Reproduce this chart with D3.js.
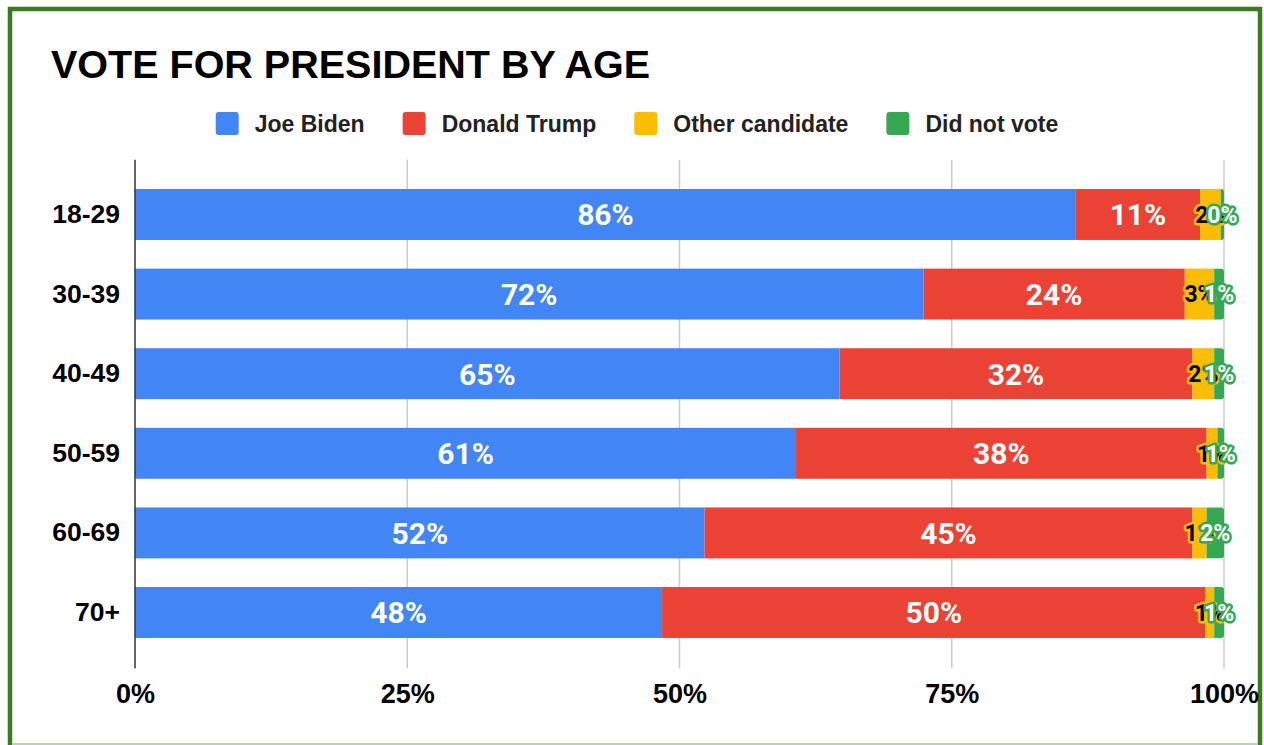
<!DOCTYPE html>
<html>
<head>
<meta charset="utf-8">
<script src="https://cdn.jsdelivr.net/npm/d3@7"></script>
<style>
  body { margin: 0; background: #fff; }
  text { font-family: "Liberation Sans", Arial, sans-serif; }
</style>
</head>
<body>
<svg id="chart" width="1264" height="745"></svg>
<script>
// Vote for president by age group (percent of each group)
const ageGroups   = ["18-29", "30-39", "40-49", "50-59", "60-69", "70+"];
const seriesNames = ["Joe Biden", "Donald Trump", "Other candidate", "Did not vote"];
const bidenPct    = [86.4, 72.4, 64.7, 60.7, 52.3, 48.4];
const trumpPct    = [11.4, 24.0, 32.4, 37.7, 44.8, 49.9];
const otherPct    = [1.9, 2.7, 2.0, 1.0, 1.3, 0.8];
const noVotePct   = [0.3, 0.9, 0.9, 0.6, 1.6, 0.9];
const xTickValues = [0, 0.25, 0.5, 0.75, 1];

const seriesColors = ["#4285f4", "#ea4335", "#fbbc04", "#34a853"];
const labelFill    = ["#ffffff", "#ffffff", "#000000", "#ffffff"];
const labelSize    = [30, 30, 23, 23];

const svg = d3.select("#chart");

// rows for the stack layout
const rows = ageGroups.map((g, i) => ({
  group: g,
  "Joe Biden": bidenPct[i],
  "Donald Trump": trumpPct[i],
  "Other candidate": otherPct[i],
  "Did not vote": noVotePct[i]
}));

const stacked = d3.stack()
  .keys(seriesNames)
  .offset(d3.stackOffsetExpand)(rows);

const x = d3.scaleLinear().domain([0, 1]).range([135, 1224]);
const y = d3.scaleBand().domain(ageGroups).range([174.7, 652.3])
  .paddingInner(0.36).paddingOuter(0.18);

const plotTop = y.range()[0] - 15, plotBottom = y.range()[1] + 16;

// frame
svg.append("path")
  .attr("d", `M10,745 L10,9 L1260,9 L1260,745`)
  .attr("fill", "none").attr("stroke", "#3b7a1f").attr("stroke-width", 4.5);
svg.append("line")
  .attr("x1", 12).attr("x2", 1258).attr("y1", 744).attr("y2", 744)
  .attr("stroke", "#b6d7a8").attr("stroke-width", 2);

// title
svg.append("text")
  .attr("x", 51).attr("y", 78)
  .attr("font-size", 39.5).attr("font-weight", "bold").attr("fill", "#000")
  .text("VOTE FOR PRESIDENT BY AGE");

// legend
const legend = svg.append("g");
const legendItems = legend.selectAll("g.item").data(seriesNames).join("g").attr("class", "item");
legendItems.append("rect")
  .attr("x", 0).attr("y", 112).attr("width", 23).attr("height", 23).attr("rx", 3)
  .attr("fill", (d, i) => seriesColors[i]);
legendItems.append("text")
  .attr("x", 39).attr("y", 132)
  .attr("font-size", 23).attr("font-weight", "bold").attr("fill", "#222")
  .text(d => d);
let cursor = 0;
const gap = 38;
legendItems.each(function () {
  const w = 39 + d3.select(this).select("text").node().getComputedTextLength();
  d3.select(this).attr("transform", `translate(${cursor},0)`);
  cursor += w + gap;
});
const legendWidth = cursor - gap;
legend.attr("transform", `translate(${637 - legendWidth / 2},0)`);

// gridlines
svg.append("g").selectAll("line")
  .data(xTickValues.filter(v => v > 0))
  .join("line")
  .attr("x1", d => x(d)).attr("x2", d => x(d))
  .attr("y1", plotTop).attr("y2", plotBottom)
  .attr("stroke", "#cccccc").attr("stroke-width", 1.5);

// x axis tick labels
const xAxis = d3.axisBottom(x).tickValues(xTickValues).tickFormat(d3.format(".0%")).tickSize(0).tickPadding(0);
const xAxisG = svg.append("g").attr("transform", `translate(0,${plotBottom})`).call(xAxis);
xAxisG.select(".domain").remove();
xAxisG.selectAll("text")
  .attr("y", 35).attr("dy", null)
  .attr("font-size", 27).attr("font-weight", "bold").attr("fill", "#000")
  .style("font-family", '"Liberation Sans", Arial, sans-serif');

// y axis category labels
const yAxis = d3.axisLeft(y).tickSize(0).tickPadding(15);
const yAxisG = svg.append("g").attr("transform", `translate(${x(0)},0)`).call(yAxis);
yAxisG.select(".domain").remove();
yAxisG.selectAll("text")
  .attr("font-size", 26.5).attr("font-weight", "bold").attr("fill", "#000")
  .style("font-family", '"Liberation Sans", Arial, sans-serif');

// bars; the last segment of each bar gets rounded right corners
const r = 3;
const layers = svg.append("g").selectAll("g.layer").data(stacked).join("g")
  .attr("class", "layer").attr("fill", (d, i) => seriesColors[i]);

layers.each(function (layer, li) {
  const last = li === stacked.length - 1;
  const g = d3.select(this);
  layer.forEach(seg => {
    const x0 = x(seg[0]), x1 = x(seg[1]);
    const y0 = y(seg.data.group), h = y.bandwidth();
    if (!last) {
      g.append("rect").attr("x", x0).attr("y", y0).attr("width", Math.max(0, x1 - x0)).attr("height", h);
    } else {
      const rr = Math.min(r, x1 - x0);
      const p = d3.path();
      p.moveTo(x0, y0);
      p.lineTo(x1 - rr, y0);
      p.arcTo(x1, y0, x1, y0 + rr, rr);
      p.lineTo(x1, y0 + h - rr);
      p.arcTo(x1, y0 + h, x1 - rr, y0 + h, rr);
      p.lineTo(x0, y0 + h);
      p.closePath();
      g.append("path").attr("d", p.toString());
    }
  });
});

// zero axis line
svg.append("line")
  .attr("x1", x(0)).attr("x2", x(0)).attr("y1", plotTop).attr("y2", plotBottom)
  .attr("stroke", "#333").attr("stroke-width", 1.5);

// data labels with a halo in the segment colour
const raw = [bidenPct, trumpPct, otherPct, noVotePct];
const labelLayer = svg.append("g");
stacked.forEach((layer, li) => {
  labelLayer.append("g").selectAll("text").data(layer).join("text")
    .attr("x", d => (x(d[0]) + x(d[1])) / 2)
    .attr("y", d => y(d.data.group) + y.bandwidth() / 2)
    .attr("dy", "0.36em")
    .attr("text-anchor", "middle")
    .style("font-family", "Roboto, 'Liberation Sans', sans-serif")
    .attr("font-weight", "bold")
    .attr("font-size", labelSize[li])
    .attr("fill", labelFill[li])
    .attr("stroke", seriesColors[li])
    .attr("stroke-width", 5)
    .attr("stroke-linejoin", "round")
    .attr("paint-order", "stroke")
    .text((d, i) => Math.round(raw[li][i]) + "%");
});
</script>
</body>
</html>
